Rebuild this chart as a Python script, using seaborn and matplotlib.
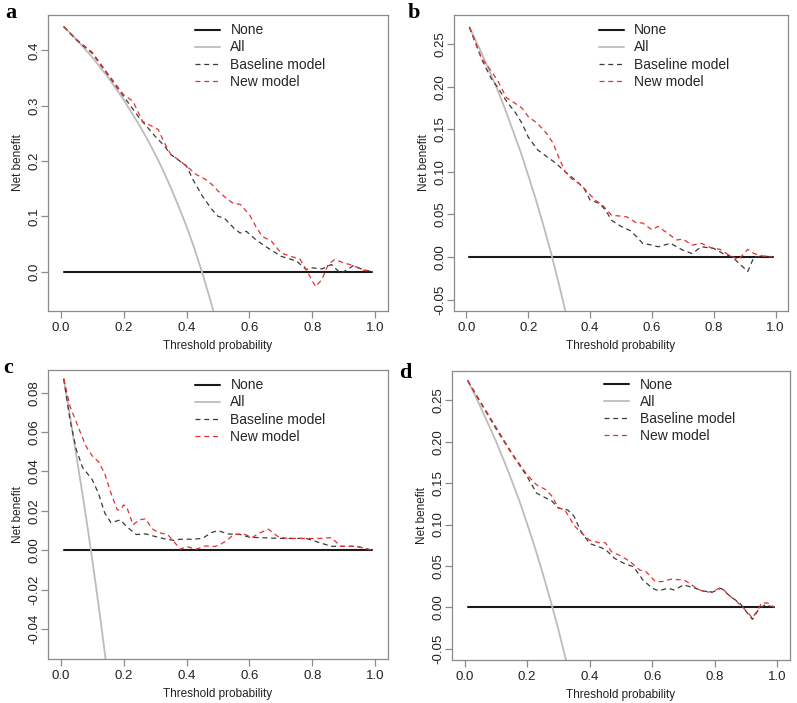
import matplotlib
matplotlib.use('Agg')
import matplotlib.pyplot as plt
import seaborn as sns

# ---- panel a ----
a_all_x = [0.01, 0.05, 0.10, 0.15, 0.20, 0.25, 0.275, 0.30, 0.325, 0.35, 0.375, 0.40, 0.425, 0.45, 0.475, 0.50]
a_all_y = [0.443, 0.420, 0.388, 0.352, 0.311, 0.265, 0.240, 0.213, 0.184, 0.152, 0.118, 0.082, 0.042, -0.002,
           -0.050, -0.102]
a_base_x = [0.01, 0.05, 0.10, 0.15, 0.20, 0.25, 0.30, 0.33, 0.35, 0.40, 0.42, 0.45, 0.48, 0.50, 0.52,
            0.55, 0.57, 0.59, 0.62, 0.65, 0.70, 0.75, 0.78, 0.80, 0.83, 0.86, 0.89, 0.91, 0.93, 0.96, 0.99]
a_base_y = [0.443, 0.419, 0.395, 0.356, 0.317, 0.278, 0.245, 0.227, 0.212, 0.191, 0.167, 0.137, 0.113, 0.100, 0.097,
            0.079, 0.070, 0.073, 0.058, 0.046, 0.028, 0.019, 0.004, 0.007, 0.005, 0.013, -0.003, 0.004, 0.011, 0.004, 0.0]
a_new_x = [0.01, 0.05, 0.10, 0.15, 0.20, 0.23, 0.26, 0.29, 0.31, 0.33, 0.35, 0.38, 0.40, 0.43, 0.46, 0.48, 0.50,
           0.53, 0.55, 0.57, 0.60, 0.62, 0.64, 0.67, 0.70, 0.73, 0.76, 0.78, 0.80, 0.81, 0.83, 0.85, 0.87, 0.90,
           0.93, 0.96, 0.99]
a_new_y = [0.443, 0.420, 0.397, 0.358, 0.320, 0.308, 0.272, 0.263, 0.257, 0.233, 0.212, 0.200, 0.191, 0.176, 0.167,
           0.158, 0.146, 0.131, 0.123, 0.122, 0.103, 0.082, 0.064, 0.055, 0.034, 0.028, 0.023, 0.004, -0.017, -0.027,
           -0.014, 0.013, 0.022, 0.016, 0.011, 0.003, 0.0]
a_ticks = [0.0, 0.1, 0.2, 0.3, 0.4]
a_labels = ['0.0', '0.1', '0.2', '0.3', '0.4']

# ---- panel b ----
b_all_x = [0.01, 0.05, 0.10, 0.125, 0.15, 0.175, 0.20, 0.225, 0.25, 0.275, 0.30, 0.325, 0.35]
b_all_y = [0.270, 0.239, 0.197, 0.174, 0.149, 0.124, 0.096, 0.067, 0.036, 0.003, -0.033, -0.071, -0.112]
b_base_x = [0.01, 0.05, 0.08, 0.10, 0.13, 0.16, 0.18, 0.20, 0.23, 0.26, 0.29, 0.32, 0.35, 0.38, 0.40, 0.43, 0.45,
            0.47, 0.50, 0.53, 0.55, 0.57, 0.60, 0.62, 0.66, 0.70, 0.73, 0.76, 0.80, 0.83, 0.86, 0.88, 0.91, 0.93,
            0.96, 0.99]
b_base_y = [0.270, 0.232, 0.210, 0.200, 0.183, 0.169, 0.157, 0.141, 0.126, 0.118, 0.110, 0.100, 0.091, 0.081, 0.067,
            0.063, 0.055, 0.043, 0.036, 0.031, 0.024, 0.016, 0.014, 0.012, 0.016, 0.008, 0.004, 0.012, 0.010, 0.004,
            0.000, -0.007, -0.017, 0.000, 0.001, 0.0]
b_new_x = [0.01, 0.05, 0.07, 0.10, 0.13, 0.16, 0.18, 0.20, 0.23, 0.26, 0.28, 0.30, 0.32, 0.34, 0.37, 0.40, 0.42,
           0.44, 0.47, 0.50, 0.52, 0.55, 0.57, 0.60, 0.62, 0.65, 0.68, 0.70, 0.73, 0.76, 0.79, 0.82, 0.85, 0.88,
           0.91, 0.93, 0.96, 0.99]
b_new_y = [0.270, 0.233, 0.224, 0.208, 0.187, 0.180, 0.175, 0.165, 0.157, 0.145, 0.134, 0.116, 0.100, 0.092, 0.085,
           0.073, 0.066, 0.061, 0.049, 0.048, 0.047, 0.040, 0.040, 0.032, 0.036, 0.028, 0.020, 0.021, 0.014, 0.016,
           0.011, 0.009, 0.002, -0.003, 0.009, 0.004, 0.001, 0.0]
b_ticks = [-0.05, 0.0, 0.05, 0.10, 0.15, 0.20, 0.25]
b_labels = ['-0.05', '0.00', '0.05', '0.10', '0.15', '0.20', '0.25']

# ---- panel c ----
c_all_x = [0.01, 0.03, 0.05, 0.075, 0.10, 0.125, 0.15]
c_all_y = [0.087, 0.068, 0.048, 0.023, -0.004, -0.033, -0.064]
c_base_x = [0.01, 0.03, 0.05, 0.07, 0.10, 0.12, 0.14, 0.16, 0.19, 0.21, 0.24, 0.27, 0.30, 0.33, 0.36, 0.38, 0.42,
            0.45, 0.48, 0.50, 0.53, 0.57, 0.60, 0.70, 0.78, 0.82, 0.86, 0.90, 0.94, 0.99]
c_base_y = [0.087, 0.066, 0.051, 0.042, 0.036, 0.029, 0.019, 0.014, 0.0154, 0.012, 0.008, 0.0083, 0.007, 0.0058,
            0.005, 0.0056, 0.0056, 0.006, 0.009, 0.010, 0.0083, 0.008, 0.0066, 0.006, 0.006, 0.004, 0.002, 0.002,
            0.002, 0.0]
c_new_x = [0.01, 0.03, 0.06, 0.08, 0.10, 0.12, 0.14, 0.16, 0.18, 0.19, 0.20, 0.21, 0.23, 0.25, 0.27, 0.29, 0.31,
           0.34, 0.36, 0.38, 0.40, 0.43, 0.46, 0.49, 0.51, 0.53, 0.55, 0.58, 0.61, 0.63, 0.66, 0.69, 0.72, 0.78,
           0.82, 0.86, 0.89, 0.94, 0.99]
c_new_y = [0.087, 0.073, 0.061, 0.053, 0.048, 0.045, 0.039, 0.029, 0.0205, 0.0205, 0.023, 0.022, 0.0129, 0.0154,
           0.016, 0.011, 0.009, 0.008, 0.0044, 0.0005, 0.0019, 0.0005, 0.0022, 0.0019, 0.0032, 0.0052, 0.008, 0.0083,
           0.0066, 0.0086, 0.0107, 0.007, 0.006, 0.006, 0.006, 0.0064, 0.002, 0.002, 0.0]
c_ticks = [-0.04, -0.02, 0.0, 0.02, 0.04, 0.06, 0.08]
c_labels = ['-0.04', '-0.02', '0.00', '0.02', '0.04', '0.06', '0.08']

# ---- panel d ----
d_all_x = [0.01, 0.05, 0.10, 0.125, 0.15, 0.175, 0.20, 0.225, 0.25, 0.275, 0.30, 0.325, 0.35]
d_all_y = [0.274, 0.243, 0.201, 0.178, 0.154, 0.129, 0.101, 0.072, 0.041, 0.008, -0.027, -0.065, -0.106]
d_base_x = [0.01, 0.05, 0.10, 0.15, 0.20, 0.23, 0.26, 0.28, 0.30, 0.33, 0.35, 0.37, 0.40, 0.43, 0.45, 0.48, 0.51,
            0.54, 0.57, 0.60, 0.62, 0.65, 0.67, 0.70, 0.73, 0.76, 0.79, 0.82, 0.85, 0.88, 0.90, 0.92, 0.94, 0.96,
            0.99]
d_base_y = [0.274, 0.248, 0.216, 0.186, 0.158, 0.138, 0.132, 0.128, 0.120, 0.1175, 0.110, 0.093, 0.077, 0.073,
            0.070, 0.059, 0.053, 0.049, 0.033, 0.023, 0.020, 0.023, 0.021, 0.027, 0.024, 0.020, 0.018, 0.023, 0.013,
            0.005, -0.005, -0.0145, -0.0024, 0.003, 0.0]
d_new_x = [0.01, 0.05, 0.10, 0.15, 0.20, 0.23, 0.26, 0.28, 0.30, 0.32, 0.35, 0.37, 0.40, 0.43, 0.45, 0.47, 0.50,
           0.53, 0.56, 0.58, 0.61, 0.63, 0.66, 0.70, 0.72, 0.74, 0.77, 0.79, 0.82, 0.85, 0.87, 0.90, 0.92, 0.94,
           0.95, 0.97, 0.99]
d_new_y = [0.274, 0.249, 0.218, 0.187, 0.160, 0.148, 0.142, 0.134, 0.120, 0.118, 0.099, 0.091, 0.081, 0.078, 0.078,
           0.067, 0.062, 0.055, 0.045, 0.043, 0.031, 0.031, 0.034, 0.033, 0.029, 0.023, 0.018, 0.019, 0.024, 0.013,
           0.007, -0.004, -0.013, -0.001, 0.0056, 0.005, 0.0]
d_ticks = b_ticks
d_labels = b_labels

x_ticks = [0.0, 0.2, 0.4, 0.6, 0.8, 1.0]
x_labels = ['0.0', '0.2', '0.4', '0.6', '0.8', '1.0']

sns.set_theme(style='white')
plt.rcParams['font.family'] = ['Liberation Sans', 'DejaVu Sans']
plt.rcParams['axes.unicode_minus'] = False

W, H = 797, 703
fig = plt.figure(figsize=(W / 100, H / 100), dpi=100)

frame = '#8a8a8a'
txt = '#222222'


def add_axes(left, right, top, bottom):
    return fig.add_axes([left / W, 1 - bottom / H, (right - left) / W, (bottom - top) / H])


def draw(ax, all_x, all_y, base_x, base_y, new_x, new_y, ylim, yticks, ylabels, leg_x, leg_y):
    sns.lineplot(x=[0.01, 0.99], y=[0, 0], ax=ax, color='#1a1a1a', lw=1.5, label='None')
    sns.lineplot(x=all_x, y=all_y, ax=ax, color='#bcbcbc', lw=1.3, label='All')
    sns.lineplot(x=base_x, y=base_y, ax=ax, color='#3a3a3a', lw=0.9, ls=(0, (4, 3)), label='Baseline model')
    sns.lineplot(x=new_x, y=new_y, ax=ax, color='#e3312f', lw=0.9, ls=(0, (4, 3)), label='New model')
    ax.set_xlim(-0.04, 1.04)
    ax.set_ylim(*ylim)
    ax.set_xticks(x_ticks)
    ax.set_xticklabels(x_labels)
    ax.set_yticks(yticks)
    ax.set_yticklabels(ylabels, rotation=90, va='center')
    for s in ax.spines.values():
        s.set_visible(True)
        s.set_color(frame)
        s.set_linewidth(0.9)
    ax.tick_params(direction='out', length=5, width=0.9, color=frame, labelsize=9.5,
                   labelcolor=txt, pad=3, bottom=True, left=True)
    ax.tick_params(axis='y', pad=0.5)
    ax.set_xlabel('Threshold probability', fontsize=8.5, color=txt, labelpad=4)
    ax.set_ylabel('Net benefit', fontsize=8.5, color=txt, labelpad=3)
    ax.legend(loc='upper left', bbox_to_anchor=(leg_x, leg_y), frameon=False, fontsize=10,
              borderpad=0, handlelength=1.8, handletextpad=0.75, labelspacing=0.22)


ax_a = add_axes(48, 388, 15, 311)
draw(ax_a, a_all_x, a_all_y, a_base_x, a_base_y, a_new_x, a_new_y, (-0.071, 0.464),
     a_ticks, a_labels, 0.412, 0.995)
ax_b = add_axes(454, 788, 15, 311)
draw(ax_b, b_all_x, b_all_y, b_base_x, b_base_y, b_new_x, b_new_y, (-0.0635, 0.2844),
     b_ticks, b_labels, 0.412, 0.995)
ax_c = add_axes(48, 388, 370, 659)
draw(ax_c, c_all_x, c_all_y, c_base_x, c_base_y, c_new_x, c_new_y, (-0.0552, 0.0915),
     c_ticks, c_labels, 0.412, 0.995)
ax_d = add_axes(452, 790, 371, 660)
draw(ax_d, d_all_x, d_all_y, d_base_x, d_base_y, d_new_x, d_new_y, (-0.0636, 0.2854),
     d_ticks, d_labels, 0.43, 1.0)

for letter, px, py in [('a', 5, 18), ('b', 408, 18), ('c', 3, 373), ('d', 399, 378)]:
    fig.text(px / W, 1 - py / H, letter, fontfamily=['Liberation Serif', 'DejaVu Serif'],
             fontweight='bold', fontsize=16, va='baseline', ha='left', color='black')

fig.savefig('out.png', dpi=100)
